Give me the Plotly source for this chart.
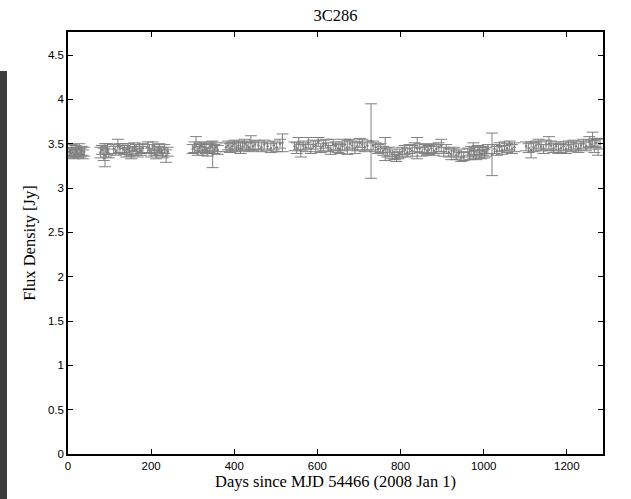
import plotly.graph_objects as go

# Observation days (since MJD 54466)
days = [3, 6, 9, 12, 15, 18, 21, 24, 27, 30, 33, 36, 39,
        78, 82, 86, 89, 92, 95, 98,
        110, 115, 120, 125,
        132, 136, 140, 144, 148, 152, 156, 160, 164, 168, 172, 176, 180,
        192, 196, 200, 204, 208, 212, 216, 220, 224, 228, 232, 236, 240,
        300, 304, 308, 312, 316, 320, 324, 328, 332, 336, 340, 344, 348, 352, 356, 360,
        380, 385, 390, 395, 400, 405, 410, 415, 420, 425, 430, 435, 440, 445, 450,
        458, 465, 472, 480, 488, 495, 502, 510, 516,
        545, 550, 555, 560, 566, 572, 578, 584, 590, 596, 602, 608, 614, 620, 626, 632, 638, 644, 650,
        655, 660, 666, 672, 678, 684, 690, 696, 702, 708, 714, 720,
        729,
        734, 740, 746, 752, 758, 763, 768, 774, 780,
        786, 790, 794, 798,
        804, 810, 816, 822, 828, 834, 840, 846, 852, 858, 864,
        868, 874, 880, 886, 892, 898, 904, 910, 916, 922, 928, 934, 940, 946, 952,
        962, 966, 970, 975, 978, 982, 986, 990, 994, 998, 1002, 1006, 1010,
        1020,
        1026, 1032, 1038, 1044, 1050, 1056, 1062, 1068, 1074,
        1102, 1108, 1114, 1120, 1126, 1132, 1138, 1144, 1150, 1157, 1162, 1168, 1174, 1180,
        1186, 1192, 1198, 1204, 1210, 1216, 1222, 1228, 1234, 1240, 1246,
        1254, 1258, 1262, 1266, 1270, 1275, 1280]

# Flux density [Jy]
flux = [3.41, 3.39, 3.43, 3.40, 3.38, 3.42, 3.41, 3.39, 3.44, 3.40, 3.42, 3.38, 3.41,
        3.40, 3.43, 3.38, 3.37, 3.41, 3.44, 3.39,
        3.44, 3.42, 3.47, 3.45,
        3.45, 3.43, 3.40, 3.44, 3.41, 3.38, 3.42, 3.46, 3.43, 3.40, 3.44, 3.42, 3.45,
        3.46, 3.44, 3.40, 3.47, 3.43, 3.38, 3.42, 3.45, 3.41, 3.39, 3.44, 3.36, 3.41,
        3.44, 3.46, 3.49, 3.42, 3.45, 3.47, 3.43, 3.46, 3.44, 3.41, 3.45, 3.47, 3.38, 3.44, 3.46, 3.43,
        3.46, 3.48, 3.45, 3.47, 3.49, 3.46, 3.48, 3.45, 3.47, 3.50, 3.48, 3.46, 3.51, 3.47, 3.49,
        3.48, 3.46, 3.49, 3.47, 3.45, 3.48, 3.46, 3.50, 3.51,
        3.47, 3.45, 3.50, 3.42, 3.48, 3.46, 3.51, 3.44, 3.49, 3.47, 3.52, 3.45, 3.48, 3.50, 3.46, 3.43, 3.49, 3.47, 3.45,
        3.44, 3.47, 3.49, 3.46, 3.50, 3.48, 3.45, 3.47, 3.51, 3.49, 3.46, 3.48,
        3.53,
        3.48, 3.46, 3.44, 3.45, 3.42, 3.44, 3.40, 3.41, 3.38,
        3.36, 3.34, 3.37, 3.39,
        3.41, 3.43, 3.40, 3.44, 3.42, 3.46, 3.45, 3.45, 3.41, 3.44, 3.42,
        3.43, 3.45, 3.42, 3.44, 3.46, 3.48, 3.41, 3.44, 3.40, 3.38, 3.41, 3.37, 3.39, 3.35, 3.36,
        3.40, 3.38, 3.42, 3.42, 3.41, 3.37, 3.43, 3.40, 3.38, 3.42, 3.39, 3.41, 3.44,
        3.38,
        3.44, 3.42, 3.46, 3.43, 3.47, 3.45, 3.48, 3.44, 3.46,
        3.47, 3.45, 3.43, 3.46, 3.48, 3.50, 3.47, 3.44, 3.49, 3.50, 3.48, 3.45, 3.47, 3.44,
        3.45, 3.47, 3.44, 3.48, 3.46, 3.49, 3.47, 3.45, 3.48, 3.50, 3.47,
        3.52, 3.49, 3.55, 3.47, 3.51, 3.46, 3.50]

# 1-sigma uncertainties [Jy]
err = [0.05, 0.05, 0.06, 0.05, 0.05, 0.06, 0.05, 0.05, 0.06, 0.05, 0.05, 0.05, 0.05,
       0.06, 0.05, 0.07, 0.13, 0.06, 0.06, 0.05,
       0.05, 0.05, 0.08, 0.05,
       0.05, 0.05, 0.05, 0.06, 0.05, 0.05, 0.05, 0.05, 0.06, 0.05, 0.05, 0.05, 0.05,
       0.06, 0.05, 0.05, 0.05, 0.06, 0.05, 0.05, 0.05, 0.05, 0.05, 0.05, 0.07, 0.05,
       0.05, 0.06, 0.09, 0.05, 0.05, 0.05, 0.06, 0.05, 0.05, 0.05, 0.05, 0.05, 0.15, 0.05, 0.05, 0.05,
       0.05, 0.05, 0.05, 0.05, 0.05, 0.05, 0.05, 0.06, 0.05, 0.05, 0.05, 0.05, 0.08, 0.05, 0.05,
       0.05, 0.05, 0.05, 0.05, 0.05, 0.05, 0.05, 0.05, 0.10,
       0.05, 0.06, 0.07, 0.07, 0.05, 0.05, 0.06, 0.05, 0.05, 0.06, 0.05, 0.05, 0.06, 0.05, 0.05, 0.05, 0.06, 0.05, 0.05,
       0.05, 0.05, 0.06, 0.08, 0.05, 0.05, 0.06, 0.05, 0.05, 0.06, 0.05, 0.05,
       0.42,
       0.05, 0.05, 0.05, 0.05, 0.05, 0.13, 0.05, 0.05, 0.05,
       0.04, 0.04, 0.04, 0.05,
       0.05, 0.05, 0.05, 0.05, 0.06, 0.05, 0.12, 0.05, 0.05, 0.05, 0.05,
       0.05, 0.05, 0.05, 0.05, 0.05, 0.07, 0.05, 0.05, 0.05, 0.06, 0.05, 0.05, 0.05, 0.05, 0.05,
       0.05, 0.06, 0.05, 0.09, 0.05, 0.05, 0.05, 0.06, 0.05, 0.05, 0.05, 0.05, 0.05,
       0.24,
       0.05, 0.05, 0.05, 0.05, 0.05, 0.05, 0.05, 0.05, 0.05,
       0.05, 0.05, 0.09, 0.05, 0.05, 0.05, 0.05, 0.05, 0.05, 0.08, 0.05, 0.05, 0.05, 0.05,
       0.05, 0.05, 0.05, 0.05, 0.05, 0.05, 0.05, 0.05, 0.05, 0.05, 0.05,
       0.06, 0.05, 0.08, 0.07, 0.05, 0.09, 0.06]

x_ticks = [0, 200, 400, 600, 800, 1000, 1200]
y_ticks = [0, 0.5, 1, 1.5, 2, 2.5, 3, 3.5, 4, 4.5]

GRAY = "rgb(128,128,128)"
SERIF = "Liberation Serif, Times New Roman, serif"
SANS = "Liberation Sans, Arial, sans-serif"

fig = go.Figure()
fig.add_trace(go.Scatter(
    x=days, y=flux, mode="markers",
    marker=dict(color=GRAY, size=2.5),
    error_y=dict(type="data", array=err, visible=True, color=GRAY,
                 thickness=1, width=6),
    showlegend=False, hoverinfo="x+y",
))

axis_common = dict(
    showline=True, linecolor="black", linewidth=1.5, mirror="ticks",
    ticks="inside", ticklen=5, tickwidth=1, tickcolor="black",
    showgrid=False, zeroline=False,
    tickfont=dict(family=SANS, size=11.5, color="black"),
)

fig.update_xaxes(range=[0, 1287], tickvals=x_ticks,
                 title=dict(text="Days since MJD 54466 (2008 Jan 1)",
                            font=dict(family=SERIF, size=16.5, color="black"),
                            standoff=0),
                 **axis_common)
fig.update_yaxes(range=[0, 4.76], tickvals=y_ticks,
                 title=dict(text="Flux Density [Jy]",
                            font=dict(family=SERIF, size=16.5, color="black"),
                            standoff=8),
                 **axis_common)

# dark strip at the left edge of the original image
fig.add_shape(type="rect", xref="paper", yref="paper",
              x0=-68 / 535, x1=-61 / 535, y0=-45 / 422, y1=383 / 422,
              fillcolor="#3c3c3c", line=dict(width=0), layer="below")

fig.update_layout(
    width=631, height=499,
    margin=dict(l=68, r=28, t=32, b=45),
    paper_bgcolor="white", plot_bgcolor="white",
    title=dict(text="3C286", x=0.5, xref="paper", y=1 - 15 / 499, yanchor="middle",
               font=dict(family=SERIF, size=16.5, color="black")),
)

fig.write_html("out.html",
               config={"displayModeBar": False},
               post_script="document.body.style.margin='0';document.body.style.overflow='hidden';")
